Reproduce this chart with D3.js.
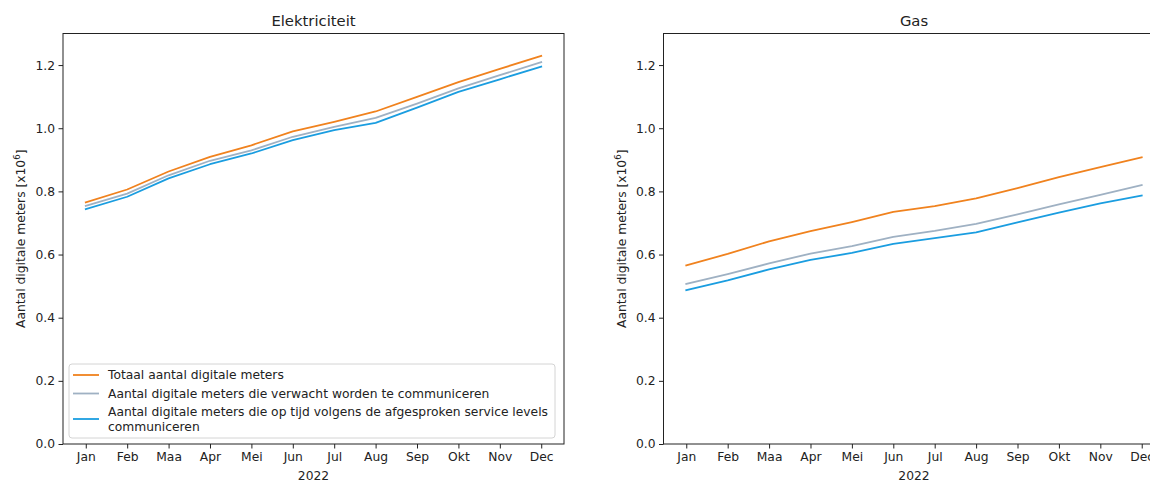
<!DOCTYPE html>
<html>
<head>
<meta charset="utf-8">
<script src="https://cdn.jsdelivr.net/npm/d3@7"></script>
<style>
  html, body { margin: 0; padding: 0; background: #fff; }
  svg text { font-family: "DejaVu Sans", sans-serif; fill: #222; }
</style>
</head>
<body>
<svg id="chart" width="1150" height="480"></svg>
<script>
// Maanden (x-as)
const months = ["Jan", "Feb", "Maa", "Apr", "Mei", "Jun", "Jul", "Aug", "Sep", "Okt", "Nov", "Dec"];
const yTicks = [0.0, 0.2, 0.4, 0.6, 0.8, 1.0, 1.2];

// Elektriciteit, aantallen x 10^6
const elekTotaal      = [0.765, 0.806, 0.863, 0.909, 0.946, 0.990, 1.020, 1.053, 1.099, 1.146, 1.188, 1.229];
const elekVerwacht    = [0.754, 0.793, 0.851, 0.897, 0.930, 0.973, 1.004, 1.033, 1.078, 1.126, 1.168, 1.209];
const elekOpTijd      = [0.744, 0.783, 0.841, 0.886, 0.920, 0.962, 0.994, 1.017, 1.065, 1.115, 1.155, 1.195];

// Gas, aantallen x 10^6
const gasTotaal       = [0.566, 0.602, 0.642, 0.674, 0.703, 0.735, 0.753, 0.778, 0.810, 0.845, 0.877, 0.908];
const gasVerwacht     = [0.507, 0.538, 0.572, 0.603, 0.627, 0.656, 0.675, 0.697, 0.727, 0.759, 0.789, 0.820];
const gasOpTijd       = [0.487, 0.518, 0.553, 0.583, 0.605, 0.634, 0.652, 0.670, 0.702, 0.733, 0.762, 0.787];

const seriesNames = [
  "Totaal aantal digitale meters",
  "Aantal digitale meters die verwacht worden te communiceren",
  "Aantal digitale meters die op tijd volgens de afgesproken service levels\ncommuniceren"
];
const seriesColors = ["#f0821e", "#9fb1c3", "#1a9de0"];

const panels = [
  { title: "Elektriciteit", left: 63, data: [elekTotaal, elekVerwacht, elekOpTijd], legend: true },
  { title: "Gas", left: 663.5, data: [gasTotaal, gasVerwacht, gasOpTijd], legend: false }
];

const svg = d3.select("#chart");
const plotTop = 33.5, plotBottom = 444, plotW = 501;
const fs = 12.3;

panels.forEach(p => {
  const g = svg.append("g").attr("transform", `translate(${p.left},0)`);
  const x = d3.scaleLinear().domain([-0.55, 11.55]).range([0, plotW]);
  const y = d3.scaleLinear().domain([0, 1.3]).range([plotBottom, plotTop]);

  // lijnen
  const line = d3.line().x((d, i) => x(i)).y(d => y(d));
  p.data.forEach((vals, k) => {
    g.append("path")
      .datum(vals)
      .attr("d", line)
      .attr("fill", "none")
      .attr("stroke", seriesColors[k])
      .attr("stroke-width", 1.8)
      .attr("stroke-linejoin", "round")
      .attr("stroke-linecap", "square");
  });

  // assen
  const xAxis = d3.axisBottom(x)
    .tickValues(d3.range(months.length))
    .tickFormat(i => months[i])
    .tickSize(4.5).tickPadding(3.5);
  const gx = g.append("g").attr("transform", `translate(0,${plotBottom})`).call(xAxis);
  const yAxis = d3.axisLeft(y)
    .tickValues(yTicks)
    .tickFormat(d3.format(".1f"))
    .tickSize(4.5).tickPadding(3.5);
  const gy = g.append("g").call(yAxis);
  [gx, gy].forEach(a => {
    a.select(".domain").remove();
    a.selectAll(".tick line").attr("stroke", "#222").attr("stroke-width", 1);
    a.selectAll(".tick text").attr("font-size", fs).style("font-family", "DejaVu Sans").attr("fill", "#222");
  });

  // kader
  g.append("rect")
    .attr("x", 0).attr("y", plotTop)
    .attr("width", plotW).attr("height", plotBottom - plotTop)
    .attr("fill", "none").attr("stroke", "#222").attr("stroke-width", 1);

  // titel
  g.append("text")
    .attr("x", plotW / 2).attr("y", plotTop - 8)
    .attr("text-anchor", "middle")
    .attr("font-size", 14.8)
    .text(p.title);

  // x-as titel
  g.append("text")
    .attr("x", plotW / 2).attr("y", plotBottom + 36)
    .attr("text-anchor", "middle")
    .attr("font-size", fs)
    .text("2022");

  // y-as titel
  const yl = g.append("text")
    .attr("transform", `translate(-38,${(plotTop + plotBottom) / 2}) rotate(-90)`)
    .attr("text-anchor", "middle")
    .attr("font-size", fs);
  yl.append("tspan").text("Aantal digitale meters [x10");
  yl.append("tspan").attr("font-size", fs * 0.7).attr("dy", -5).text("6");
  yl.append("tspan").attr("dy", 5).text("]");

  // legenda
  if (p.legend) {
    const lg = g.append("g").attr("transform", `translate(6,${364})`);
    lg.append("rect")
      .attr("x", 0).attr("y", 0)
      .attr("width", 486).attr("height", 74)
      .attr("rx", 3)
      .attr("fill", "#fff").attr("fill-opacity", 0.8)
      .attr("stroke", "#d4d4d4").attr("stroke-width", 1);
    const rowY = [11, 29.5, 55];
    seriesNames.forEach((name, k) => {
      const lines = name.split("\n");
      lg.append("line")
        .attr("x1", 4).attr("x2", 30)
        .attr("y1", rowY[k]).attr("y2", rowY[k])
        .attr("stroke", seriesColors[k]).attr("stroke-width", 1.8);
      const t = lg.append("text")
        .attr("x", 39)
        .attr("y", rowY[k] - (lines.length - 1) * 7.7)
        .attr("font-size", fs);
      lines.forEach((ln, j) => {
        t.append("tspan").attr("x", 39).attr("dy", j === 0 ? "0.35em" : 15.4).text(ln);
      });
    });
  }
});
</script>
</body>
</html>
